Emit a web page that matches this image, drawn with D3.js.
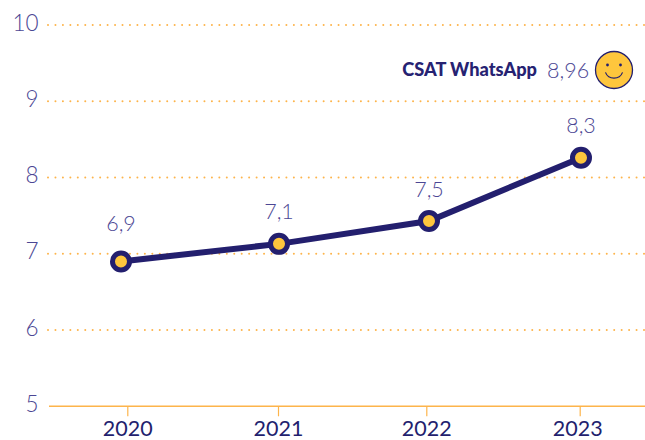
<!DOCTYPE html>
<html><head><meta charset="utf-8">
<script src="https://cdn.jsdelivr.net/npm/d3@7"></script>
<style>html,body{margin:0;padding:0;background:#fff;overflow:hidden}svg{display:block}text{font-family:Lato,"Open Sans",sans-serif}</style>
</head><body><svg id="c" width="645" height="440"></svg>
<script>
const years = ["2020","2021","2022","2023"];
const values = [6.9,7.13,7.43,8.26];
const labels = ["6,9","7,1","7,5","8,3"];
const yTicks = [5,6,7,8,9,10];
const legendName = "CSAT WhatsApp";
const legendValue = "8,96";
const tickXs = [127.3,278,426.3,579.7];
const pointOffsets = [-6.3,1,2.7,1.3];
const labelGaps = [30,25,24,25];
const navy="#231f6e", lilac="#4c4794", orange="#fdb44b", yellow="#fec63d";
const svg=d3.select("#c");
const y=d3.scaleLinear().domain([5,10]).range([406.3,25]);
const x=d3.scaleOrdinal().domain(years).range(tickXs);
const px=(d,i)=>x(years[i])+pointOffsets[i];
const gy=svg.append("g");
gy.selectAll("line.g").data(yTicks.filter(t=>t>5)).join("line").attr("class","g")
 .attr("x1",48).attr("x2",645).attr("y1",d=>y(d)).attr("y2",d=>y(d))
 .attr("stroke",orange).attr("stroke-width",2).attr("stroke-linecap","round").attr("stroke-dasharray","0.01 7.44");
gy.selectAll("text").data(yTicks).join("text").attr("x",38.5).attr("y",d=>y(d)-2.5).attr("dy","0.36em")
 .attr("text-anchor","end").attr("font-size",22.5).attr("font-weight",300).attr("fill",lilac).text(d=>d);
const ax=d3.axisBottom(x).tickSize(10).tickPadding(7);
const g=svg.append("g").attr("transform",`translate(0,${y(5)})`).call(ax);
g.select(".domain").remove();
g.append("line").attr("x1",49).attr("x2",645).attr("stroke",orange).attr("stroke-width",1.5);
g.selectAll(".tick line").attr("stroke",orange).attr("stroke-width",1.2);
g.selectAll(".tick text").attr("font-size",21.5).attr("fill",navy).attr("font-family","Lato")
 .attr("dy",null).attr("y",29.7).attr("x",(d,i)=>i===3?-2.5:0);
const line=d3.line().x(px).y(d=>y(d));
svg.append("path").datum(values).attr("d",line).attr("fill","none").attr("stroke",navy).attr("stroke-width",6);
svg.selectAll("circle.p").data(values).join("circle").attr("class","p").attr("cx",px).attr("cy",d=>y(d))
 .attr("r",8.5).attr("fill",yellow).attr("stroke",navy).attr("stroke-width",5);
svg.selectAll("text.v").data(values).join("text").attr("class","v").attr("x",px).attr("y",(d,i)=>y(d)-labelGaps[i])
 .attr("text-anchor","middle").attr("font-size",21.5).attr("font-weight",300).attr("fill",lilac).text((d,i)=>labels[i]);
svg.append("text").attr("x",537).attr("y",76).attr("text-anchor","end").attr("font-size",18.2).attr("font-weight",900).attr("fill","#262272").text(legendName);
svg.append("text").attr("x",547).attr("y",77.5).attr("font-size",21.5).attr("font-weight",300).attr("fill",lilac).text(legendValue);
const s=svg.append("g").attr("transform","translate(614,70)");
s.append("circle").attr("r",18.5).attr("fill",yellow).attr("stroke",navy).attr("stroke-width",1.3);
s.selectAll("circle.e").data([-6.5,6.5]).join("circle").attr("class","e").attr("cx",d=>d).attr("cy",-5).attr("r",1.4).attr("fill",navy);
s.append("path").attr("d",d3.arc()({innerRadius:8.6,outerRadius:9.8,startAngle:Math.PI*0.62,endAngle:Math.PI*1.38})).attr("fill",navy).attr("transform","translate(0,-1)");
</script></body></html>
